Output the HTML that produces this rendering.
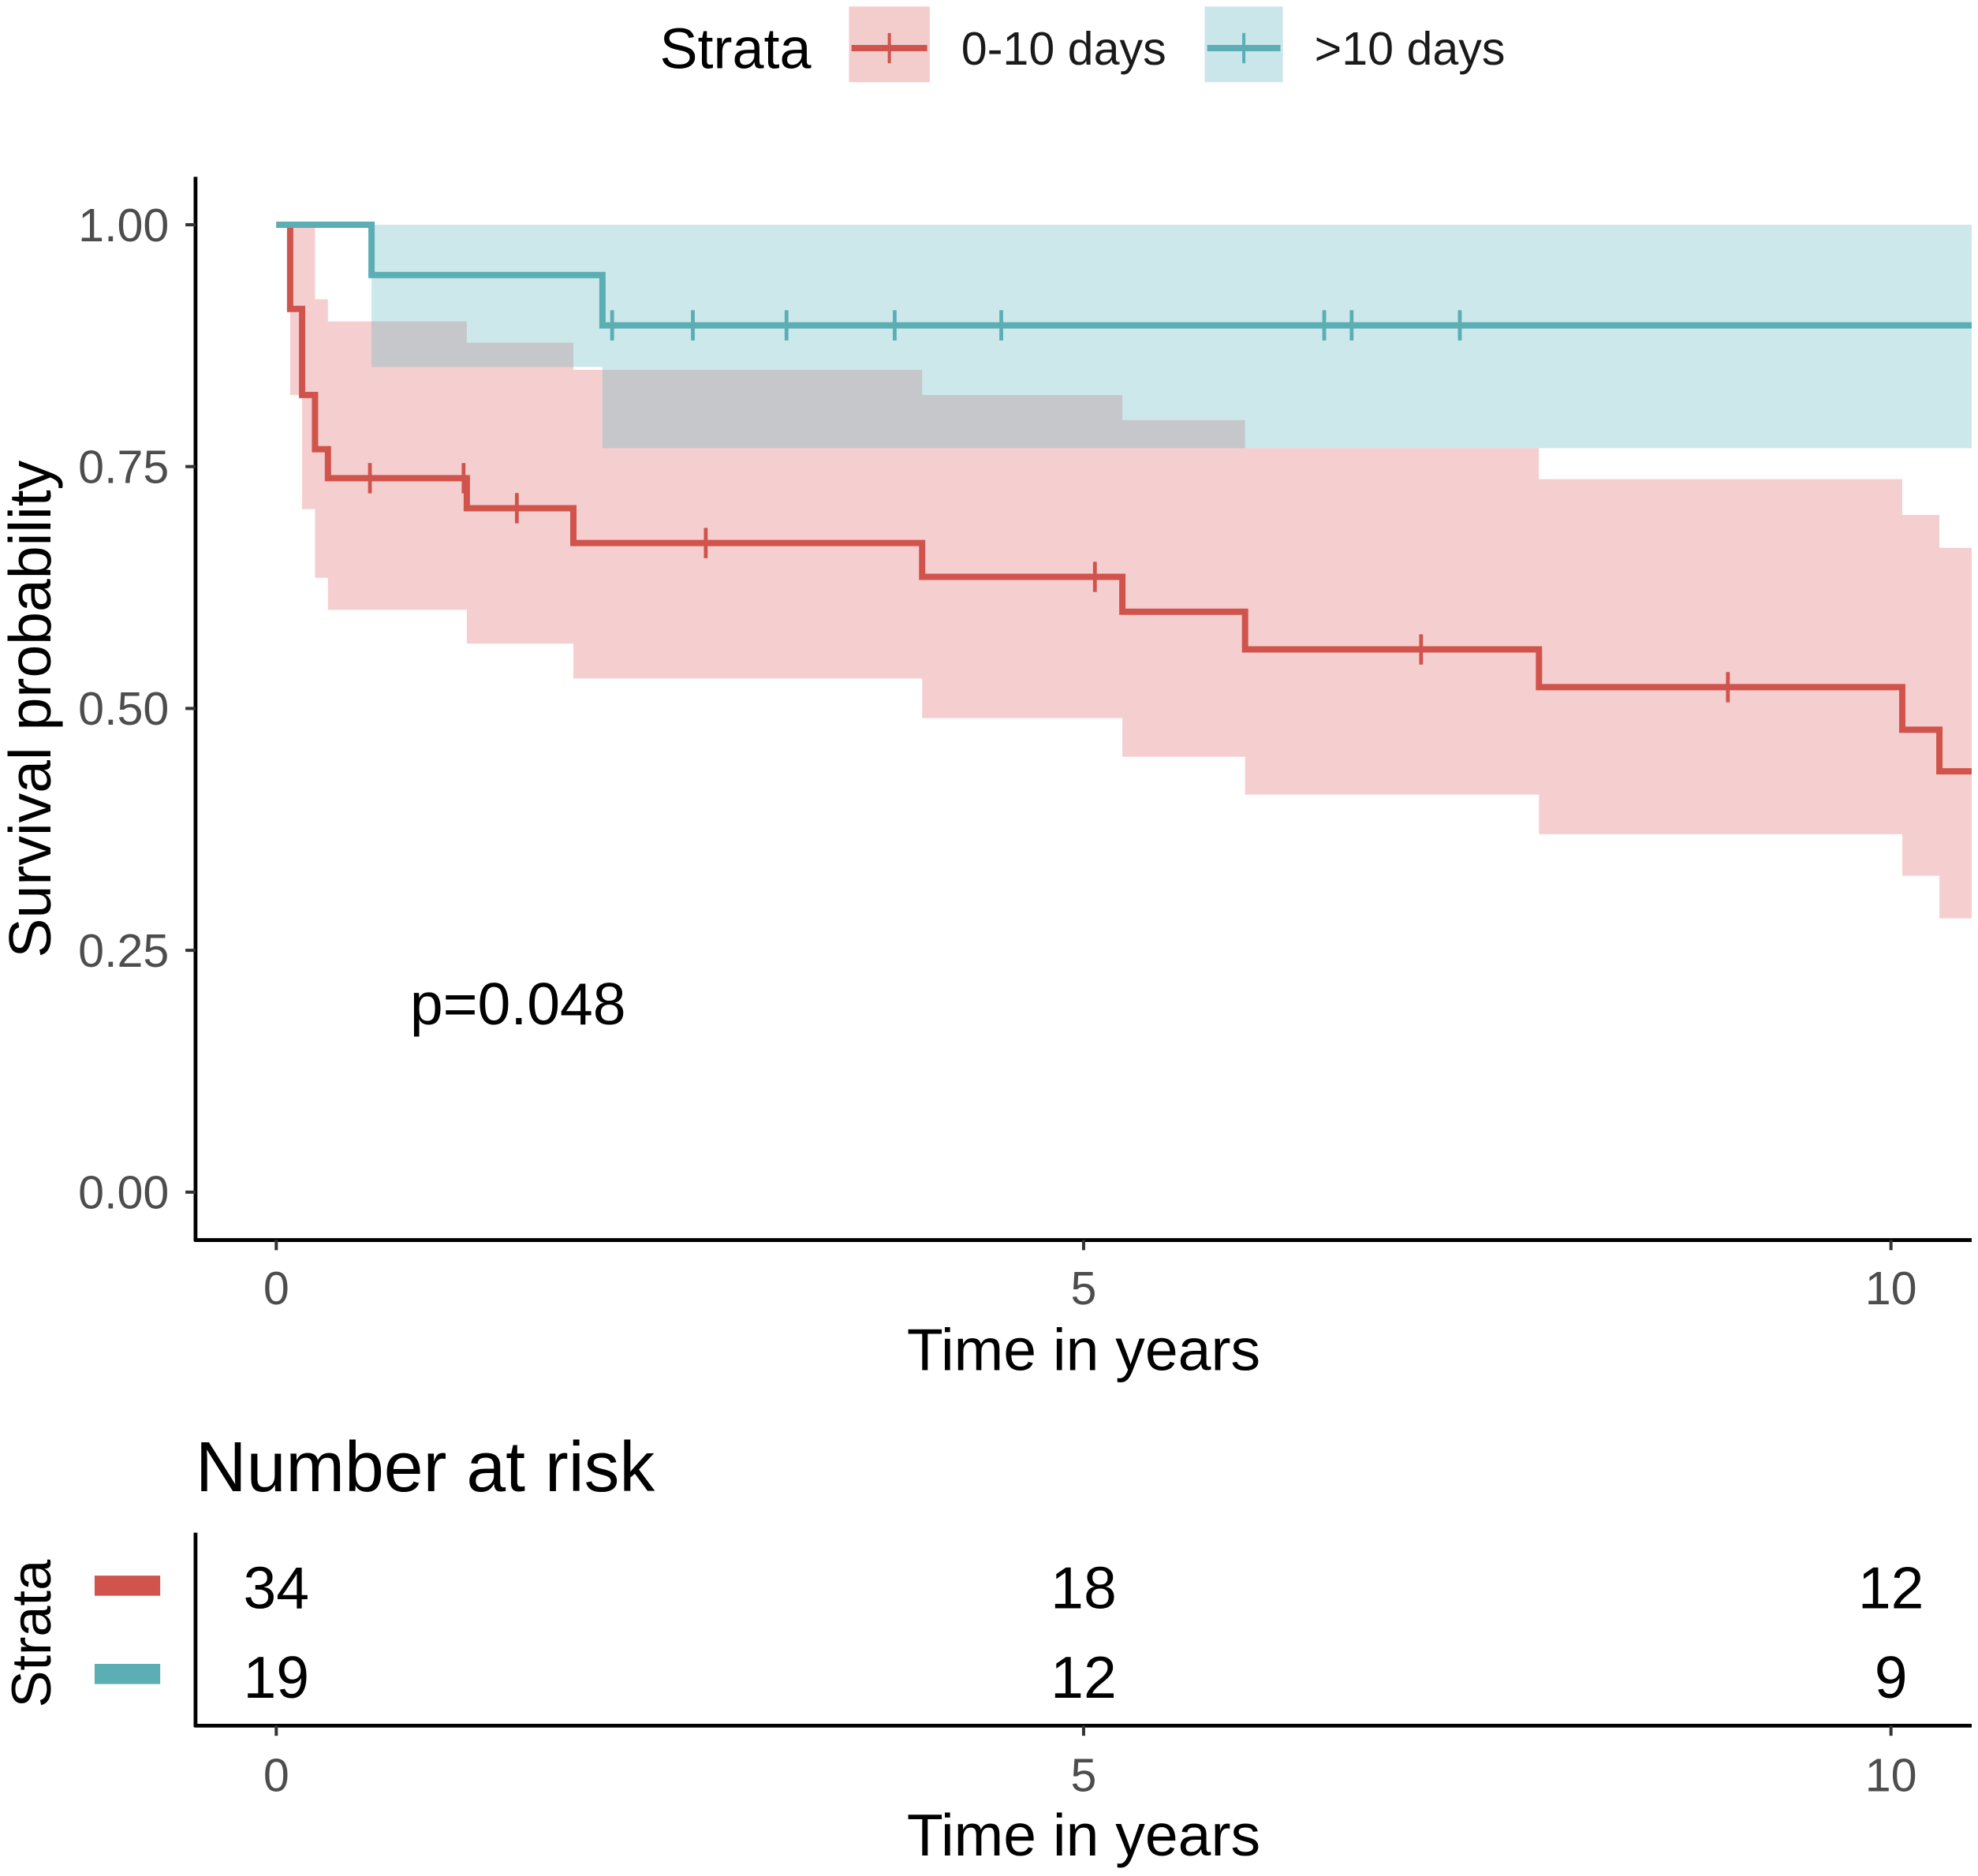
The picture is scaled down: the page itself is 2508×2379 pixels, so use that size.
<!DOCTYPE html>
<html><head><meta charset="utf-8"><style>
html,body{margin:0;padding:0;background:#fff}
svg{display:block;font-family:"Liberation Sans",Arial,sans-serif}
</style></head><body>
<svg id="chart" width="2508" height="2379" viewBox="0 0 1568 1487" xmlns="http://www.w3.org/2000/svg">
<g>
<text x="523" y="54" font-size="45" fill="#000">Strata</text>
<g>
<rect x="673" y="5" width="64" height="60" fill="#F2CDCC"/>
<line x1="675" y1="38" x2="735" y2="38" stroke="#D0544C" stroke-width="5"/>
<line x1="705" y1="26" x2="705" y2="50" stroke="#D0544C" stroke-width="2.5"/>
<text x="762" y="51" font-size="37" fill="#1a1a1a">0-10 days</text>
</g>
<g>
<rect x="955" y="5" width="62" height="60" fill="#CBE6EA"/>
<line x1="957" y1="38" x2="1015" y2="38" stroke="#5AAEB4" stroke-width="5"/>
<line x1="986" y1="26" x2="986" y2="50" stroke="#5AAEB4" stroke-width="2.5"/>
<text x="1042" y="51" font-size="37" fill="#1a1a1a">&gt;10 days</text>
</g>
</g>
<g id="plot"></g>
<g id="axes"></g>
<text x="325" y="812" font-size="47" fill="#000">p=0.048</text>
<text transform="translate(40,562) rotate(-90)" text-anchor="middle" font-size="47" fill="#000">Survival probability</text>
<text x="859" y="1086" text-anchor="middle" font-size="47" fill="#000">Time in years</text>
<text x="155" y="1182" font-size="56" fill="#000">Number at risk</text>
<text transform="translate(40,1295) rotate(-90)" text-anchor="middle" font-size="44" fill="#000">Strata</text>
<rect x="75" y="1249" width="52" height="16" fill="#D0544C"/>
<rect x="75" y="1319" width="52" height="16" fill="#5AAEB4"/>
<text x="859" y="1471" text-anchor="middle" font-size="47" fill="#000">Time in years</text>
<g id="risk"></g>
</svg>
<script>
// Data
const redTimes=[0,0.086,0.16,0.24,0.32,1.18,1.84,4.0,5.24,6.0,7.82,10.07,10.3];
const redSurv=[1.0,0.913,0.824,0.768,0.738,0.707,0.671,0.636,0.600,0.561,0.522,0.478,0.435];
const redUpper=[1.0,1.0,1.0,0.923,0.9,0.878,0.85,0.824,0.798,0.769,0.737,0.70,0.666];
const redLower=[1.0,0.824,0.706,0.635,0.602,0.567,0.531,0.49,0.45,0.411,0.37,0.327,0.283];
const redCensor=[0.58,1.16,1.49,2.66,5.07,7.09,8.99];
const tealTimes=[0,0.59,2.02];
const tealSurv=[1.0,0.948,0.896];
const tealUpper=[1.0,1.0,1.0];
const tealLower=[1.0,0.853,0.769];
const tealCensor=[2.08,2.58,3.16,3.83,4.49,6.49,6.66,7.33];
const tEnd=10.5;
const yTicks=[0,0.25,0.5,0.75,1.0];
const yTickLabels=["0.00","0.25","0.50","0.75","1.00"];
const xTicks=[0,5,10];
const riskRed=[34,18,12];
const riskTeal=[19,12,9];

const X=t=>219+t*128;
const Y=s=>945-s*767;
const NS="http://www.w3.org/2000/svg";
function mk(tag,attrs,parent){const e=document.createElementNS(NS,tag);for(const k in attrs)e.setAttribute(k,attrs[k]);parent.appendChild(e);return e;}
const plot=document.getElementById('plot'),axes=document.getElementById('axes'),risk=document.getElementById('risk');

function stepPts(times,vals){let p=[];for(let i=0;i<times.length;i++){const x0=X(times[i]),x1=X(i+1<times.length?times[i+1]:tEnd);p.push([x0,Y(vals[i])],[x1,Y(vals[i])]);}return p;}
function band(times,up,lo,color,name){
  const u=stepPts(times,up),l=stepPts(times,lo).reverse();
  const pts=u.concat(l).map(p=>p.join(',')).join(' ');
  const e=mk('polygon',{points:pts,fill:color,'fill-opacity':0.32},plot);
  
  
}
function curve(times,vals,color,name){
  const pts=stepPts(times,vals).map(p=>p.join(',')).join(' ');
  const e=mk('polyline',{points:pts,fill:'none',stroke:color,'stroke-width':5},plot);
  
  
}
function censors(cs,times,vals,color,name){
  cs.forEach(t=>{let s=vals[0];for(let i=0;i<times.length;i++)if(times[i]<=t)s=vals[i];
    const e=mk('line',{x1:X(t),x2:X(t),y1:Y(s)-12,y2:Y(s)+12,stroke:color,'stroke-width':3},plot);
    
    });
}
band(redTimes,redUpper,redLower,'#E06A6A','ci-band-0-10');
band(tealTimes,tealUpper,tealLower,'#5FB8C2','ci-band-gt10');
curve(redTimes,redSurv,'#D0544C','survival-curve-0-10');
curve(tealTimes,tealSurv,'#5AAEB4','survival-curve-gt10');
censors(redCensor,redTimes,redSurv,'#D0544C','censor-mark-0-10');
censors(tealCensor,tealTimes,tealSurv,'#5AAEB4','censor-mark-gt10');

// axes
mk('line',{x1:155,y1:140,x2:155,y2:984,stroke:'#000','stroke-width':3},axes);
mk('line',{x1:154,y1:983,x2:1563,y2:983,stroke:'#000','stroke-width':3},axes);
yTicks.forEach((v,i)=>{
  mk('line',{x1:147,x2:155,y1:Y(v),y2:Y(v),stroke:'#333','stroke-width':2.5},axes);
  const t=mk('text',{x:134,y:Y(v)+13,'text-anchor':'end','font-size':37,fill:'#4d4d4d'},axes);t.textContent=yTickLabels[i];
  
  
});
xTicks.forEach(v=>{
  mk('line',{x1:X(v),x2:X(v),y1:983,y2:991,stroke:'#333','stroke-width':2.5},axes);
  const t=mk('text',{x:X(v),y:1034,'text-anchor':'middle','font-size':37,fill:'#4d4d4d'},axes);t.textContent=v;
  
  
});
// risk table
mk('line',{x1:155,y1:1215,x2:155,y2:1369,stroke:'#000','stroke-width':3},risk);
mk('line',{x1:154,y1:1368,x2:1563,y2:1368,stroke:'#000','stroke-width':3},risk);
xTicks.forEach((v,i)=>{
  mk('line',{x1:X(v),x2:X(v),y1:1368,y2:1376,stroke:'#333','stroke-width':2.5},risk);
  const t=mk('text',{x:X(v),y:1420,'text-anchor':'middle','font-size':37,fill:'#4d4d4d'},risk);t.textContent=v;
  
  
  const a=mk('text',{x:X(v),y:1275,'text-anchor':'middle','font-size':47,fill:'#000'},risk);a.textContent=riskRed[i];
  
  
  const b=mk('text',{x:X(v),y:1346,'text-anchor':'middle','font-size':47,fill:'#000'},risk);b.textContent=riskTeal[i];
  
  
});
</script>
</body></html>
